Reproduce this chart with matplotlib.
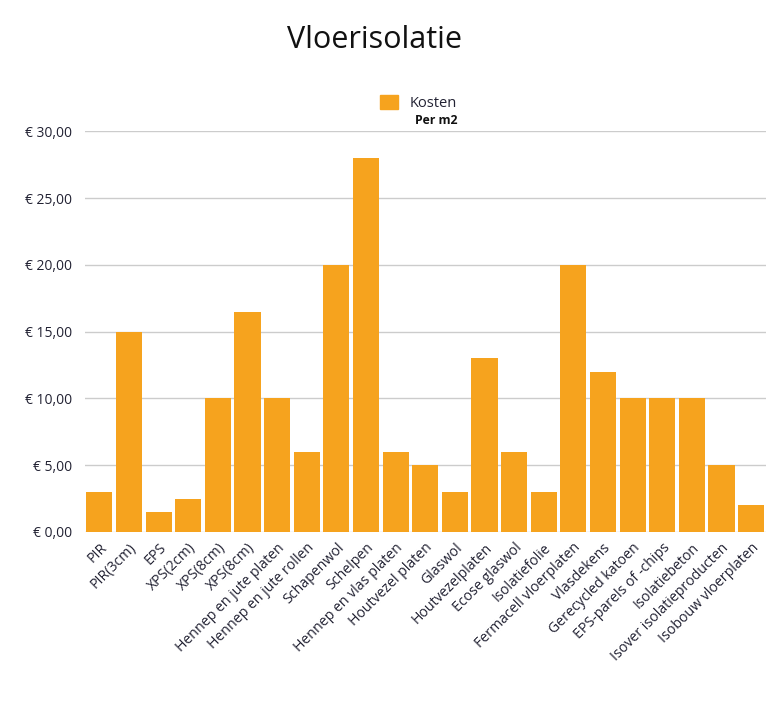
import matplotlib.pyplot as plt
from matplotlib.patches import Patch

plt.rcParams["font.family"] = ["Open Sans", "DejaVu Sans"]

categories = [
    "PIR", "PIR(3cm)", "EPS", "XPS(2cm)", "XPS(8cm)", "XPS(8cm)",
    "Hennep en jute platen", "Hennep en jute rollen", "Schapenwol", "Schelpen",
    "Hennep en vlas platen", "Houtvezel platen", "Glaswol", "Houtvezelplaten",
    "Ecose glaswol", "Isolatiefolie", "Fermacell vloerplaten", "Vlasdekens",
    "Gerecycled katoen", "EPS-parels of -chips", "Isolatiebeton",
    "Isover isolatieproducten", "Isobouw vloerplaten",
]
kosten = [3, 15, 1.5, 2.5, 10, 16.5, 10, 6, 20, 28, 6, 5, 3, 13, 6, 3, 20, 12,
          10, 10, 10, 5, 2]
yticks = [0, 5, 10, 15, 20, 25, 30]

bar_color = "#F6A31E"
text_color = "#222233"

fig = plt.figure(figsize=(7.76, 7.08), dpi=100)
ax = fig.add_axes([0.109, 0.2486, 0.878, 0.566])

x = range(len(categories))
ax.bar(x, kosten, width=0.88, color=bar_color, zorder=3)

ax.set_xlim(-0.5, len(categories) - 0.5)
ax.set_ylim(0, 30)
ax.set_yticks(yticks)
ax.set_yticklabels([f"€ {v:.2f}".replace(".", ",") for v in yticks],
                   fontsize=10, color=text_color)
ax.set_xticks(list(x))
ax.set_xticklabels(categories, rotation=45, ha="right", rotation_mode="anchor",
                   fontsize=10.2, color=text_color)
ax.tick_params(axis="both", length=0)
ax.tick_params(axis="y", pad=9)
ax.tick_params(axis="x", pad=6)
ax.grid(axis="y", color="#cccccc", linewidth=1, zorder=0)
for s in ax.spines.values():
    s.set_visible(False)

fig.text(0.483, 0.943, "Vloerisolatie", ha="center", va="center",
         fontsize=22, color="#111111")

leg = ax.legend(handles=[Patch(color=bar_color, label="Kosten")],
                loc="center", bbox_to_anchor=(0.49, 1.07), frameon=False,
                fontsize=10.5, handlelength=1.2, handleheight=1.1,
                handletextpad=0.8)
for t in leg.get_texts():
    t.set_color(text_color)
fig.text(0.5625, 0.830, "Per m2", ha="center", va="center", fontsize=8.8,
         fontweight="bold", color="#111111")

fig.savefig("out.png", dpi=100)
